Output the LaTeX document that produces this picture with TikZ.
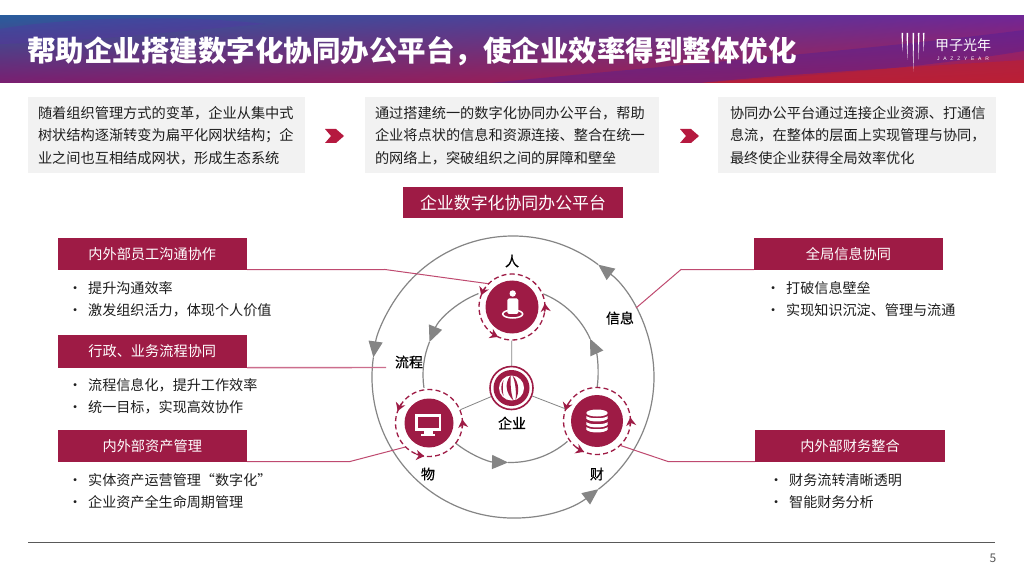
\documentclass[tikz,border=0pt]{standalone}
\usepackage{fontspec}
\usetikzlibrary{arrows.meta,shapes.geometric,shadings}
\setmainfont{Noto Sans CJK SC}
\newfontfamily\logofont[LetterSpace=75]{Liberation Sans}
\newfontfamily\labelfont[FakeBold=0.5]{Noto Sans CJK SC}
\definecolor{crimson}{HTML}{9E1B45}
\definecolor{leaderc}{HTML}{BF4A70}
\definecolor{ringgray}{HTML}{858585}
\definecolor{panelgray}{HTML}{F2F2F2}
\definecolor{chevron}{HTML}{B5193F}
\definecolor{bodytext}{HTML}{1E1E1E}
\definecolor{hul}{HTML}{2A5C9C}
\definecolor{hur}{HTML}{702696}
\definecolor{hll}{HTML}{7A1E70}
\definecolor{hlr}{HTML}{B51E40}
\definecolor{wavep}{HTML}{5A2FA8}
\definecolor{waveb}{HTML}{4A1F9C}
\definecolor{waver}{HTML}{C0202C}
\tikzset{
  panel/.style={fill=panelgray,draw=none,minimum height=76pt,inner ysep=0pt,inner xsep=10pt,align=left,text=bodytext,
     font=\fontsize{14.2}{22.5}\selectfont},
  tagbox/.style={fill=crimson,text=white,draw=none,inner sep=0pt,font=\fontsize{14.2}{16}\selectfont},
  bullettext/.style={anchor=west,inner sep=0pt,text=bodytext,font=\fontsize{14.1}{16}\selectfont},
  ringlabel/.style={inner sep=0pt,text=black,font=\labelfont\fontsize{14}{16}\selectfont},
  ringline/.style={draw=ringgray,line width=1.2pt},
  ringarrow/.style={ringline,-{Triangle[length=16pt,width=14pt,fill=ringgray]}},
  leader/.style={draw=leaderc,line width=1pt},
  spoke/.style={draw=ringgray,line width=.8pt},
  dashring/.style={circle,draw=crimson,line width=1.3pt,dash pattern=on 5pt off 3.2pt,inner sep=0pt},
  disk/.style={circle,fill=crimson,inner sep=0pt},
  swirl/.style={draw=crimson,line width=1.5pt,-{Stealth[length=8pt,width=10pt,inset=2.5pt]}},
  chev/.style={fill=chevron,draw=none}
}
\newcommand{\bulitem}[4]{\node[bullettext] (#1) at (#2,#3) {\makebox[20pt][l]{\hspace{0pt}•}#4};}
\newcommand{\swirls}[5]{%
  \foreach \ang in {#4,#5,-8}{%
    \draw[swirl] (#1,#2) ++(\ang:#3) arc (\ang:\ang+14:#3);}}
\begin{document}
\begin{tikzpicture}[x=1pt,y=1pt]
\useasboundingbox (0,0) rectangle (1024,576);
\fill[white] (0,0) rectangle (1024,576);
% header band
\shade[upper left=hul,upper right=hur,lower left=hll,lower right=hlr]
  (0,493) rectangle (1024,560);
\begin{scope}
  \clip (0,493) rectangle (1024,560);
  \fill[wavep,opacity=.3] (0,547) .. controls (60,558) and (180,562) .. (265,552) .. controls (180,545) and (80,534) .. (0,532) -- cycle;
  \fill[waveb,opacity=.4] (490,493) .. controls (660,510) and (860,525) .. (1024,546) -- (1024,525) .. controls (900,505) and (800,500) .. (700,493) -- cycle;
  \fill[waver,opacity=.6] (700,493) .. controls (800,503) and (930,510) .. (1024,516) -- (1024,493) -- cycle;
\end{scope}
\node[anchor=west,inner sep=0pt,text=white,font=\fontsize{28.5}{30}\selectfont\bfseries] (title) at (27,525) {帮助企业搭建数字化协同办公平台，使企业效率得到整体优化};
% logo
\foreach \lx/\ly in {902.3/524.3,907.3/516,913.3/504.3,918.7/516,923.7/524.3}{
  \fill[white] (\lx-.8,543) -- (\lx+.8,543) -- (\lx,\ly) -- cycle;}
\node[inner sep=0pt,text=white,font=\fontsize{14}{16}\selectfont] (logocn) at (963,530.5) {甲子光年};
\node[inner sep=0pt,text=white,font=\logofont\fontsize{5}{6}\selectfont] (logoen) at (963,517) {JAZZYEAR};
% top panels
\node[panel,minimum width=277pt,text width=257pt] (p1) at (166.5,440.5) {随着组织管理方式的变革，企业从集中式\\树状结构逐渐转变为扁平化网状结构；企\\业之间也互相结成网状，形成生态系统};
\node[panel,minimum width=294pt,text width=274pt] (p2) at (512,440.5) {通过搭建统一的数字化协同办公平台，帮助\\企业将点状的信息和资源连接、整合在统一\\的网络上，突破组织之间的屏障和壁垒};
\node[panel,minimum width=278pt,inner xsep=12pt,text width=254pt] (p3) at (857,440.5) {协同办公平台通过连接企业资源、打通信\\息流，在整体的层面上实现管理与协同，\\最终使企业获得全局效率优化};
\fill[chev] (325,447) -- (336,447) -- (344,440) -- (336,433) -- (325,433) -- (331,440) -- cycle;
\fill[chev] (680,447) -- (691,447) -- (699,440) -- (691,433) -- (680,433) -- (686,440) -- cycle;
\node[tagbox,minimum width=220pt,minimum height=31pt,font=\fontsize{16.9}{18}\selectfont] (platform) at (513,373) {企业数字化协同办公平台};
% left column
\node[tagbox,minimum width=189.5pt,minimum height=32pt] (L1) at (152.25,322) {内外部员工沟通协作};
\node[tagbox,minimum width=189.5pt,minimum height=33pt] (L2) at (152.25,224.5) {行政、业务流程协同};
\node[tagbox,minimum width=189.5pt,minimum height=32pt] (L3) at (152.25,130) {内外部资产管理};
\bulitem{b1}{68}{288}{提升沟通效率}
\bulitem{b2}{68}{266}{激发组织活力，体现个人价值}
\bulitem{b3}{68}{191}{流程信息化，提升工作效率}
\bulitem{b4}{68}{169}{统一目标，实现高效协作}
\bulitem{b5}{68}{96}{实体资产运营管理“数字化”}
\bulitem{b6}{68}{74}{企业资产全生命周期管理}
% right column
\node[tagbox,minimum width=189pt,minimum height=32pt] (R1) at (848.5,322) {全局信息协同};
\node[tagbox,minimum width=190pt,minimum height=32pt] (R2) at (850,130) {内外部财务整合};
\bulitem{b7}{766}{288}{打破信息壁垒}
\bulitem{b8}{766}{266}{实现知识沉淀、管理与流通}
\bulitem{b9}{769}{96}{财务流转清晰透明}
\bulitem{b10}{769}{74}{智能财务分析}
% rings
\coordinate (oc) at (513,199);
\coordinate (ic) at (510.5,201);
\draw[ringarrow] (oc) ++(-52.7:141) arc (-52.7:52.8:141);
\draw[ringarrow] (oc) ++(52.8:141) arc (52.8:172:141);
\draw[ringarrow] (oc) ++(172:141) arc (172:307.3:141);
\draw[ringarrow] (ic) ++(-8:87.5) arc (-8:24.4:87.5);
\draw[ringline] (ic) ++(24.4:87.5) arc (24.4:68:87.5);
\draw[ringarrow] (ic) ++(111.5:87.5) arc (111.5:157.8:87.5);
\draw[ringline] (ic) ++(157.8:87.5) arc (157.8:188.5:87.5);
\draw[ringarrow] (ic) ++(230.8:87.5) arc (230.8:268.4:87.5);
\draw[ringline] (ic) ++(268.4:87.5) arc (268.4:310.6:87.5);
% nodes on the ring
\node[dashring,minimum size=66pt] (renring) at (512,269) {};
\node[dashring,minimum size=67pt] (wuring) at (429,153) {};
\node[dashring,minimum size=67pt] (cairing) at (597,155) {};
\node[disk,minimum size=53pt] (ren) at (512,269) {};
\node[disk,minimum size=49pt] (wu) at (429,153) {};
\node[disk,minimum size=52pt] (cai) at (597,155) {};
\swirls{512}{269}{33}{145}{231}
\swirls{429}{153}{33.5}{145}{248}
\swirls{597}{155}{33.5}{148}{233}
% centre
\node[circle,fill=white,draw=crimson,line width=1.6pt,minimum size=43pt,inner sep=0pt] (qiye) at (511.5,188) {};
\draw[spoke] (renring) -- (qiye);
\draw[spoke] (wuring) -- (qiye);
\draw[spoke] (cairing) -- (qiye);
\fill[crimson] (511.5,188) circle (18);
\begin{scope}[shift={(511.5,188)}]
  \fill[white] (0,0) circle (12.5);
  \fill[crimson] (-1,12.5) .. controls (-7,5) and (-6,-5) .. (2,-12.5) .. controls (-1,-5) and (-1,5) .. (-1,12.5) -- cycle;
  \fill[crimson] (1,12.5) .. controls (8,6) and (8,-5) .. (4,-12) .. controls (5,-5) and (4,6) .. (1,12.5) -- cycle;
  \fill[crimson] (-8,-8) .. controls (-11,-3) and (-11,3) .. (-8,8) .. controls (-9,3) and (-9,-3) .. (-8,-8) -- cycle;
\end{scope}
% person icon
\draw[white,line width=1.5pt] (512.7,262) ellipse (10 and 4);
\fill[white] (512.7,282.5) circle (3.2);
\fill[white,rounded corners=1.5pt] (507.3,262) rectangle (518.3,277.5);
% monitor icon
\fill[white] (415,145.5) rectangle (441,162);
\fill[crimson] (417.5,148.5) rectangle (438.5,159.5);
\fill[white] (424,145.5) rectangle (432.5,142);
\fill[white] (421,142) rectangle (435,140);
% database icon
\fill[white] (597,163) ellipse (10.7 and 3.5);
\foreach \yb in {160,154,149}{
  \fill[white] (586.3,\yb) .. controls (589,\yb-3) and (605,\yb-3) .. (607.7,\yb) -- (607.7,\yb-2.6) .. controls (605,\yb-6.4) and (589,\yb-6.4) .. (586.3,\yb-2.6) -- cycle;}
% labels
\node[ringlabel] (lren) at (512,315) {人};
\node[ringlabel] (lxx) at (620,258) {信息};
\node[ringlabel] (llc) at (409,214) {流程};
\node[ringlabel] (lqy) at (512,153) {企业};
\node[ringlabel] (lwu) at (428,102) {物};
\node[ringlabel] (lcai) at (597,102) {财};
% leaders
\coordinate (e1) at (385,306.5);
\coordinate (e2) at (386,208.5);
\coordinate (e3) at (350,114.5);
\coordinate (e4) at (681,306.5);
\coordinate (e5) at (668,114.5);
\coordinate (e6) at (636,268);
\draw[leader] ([yshift=.5pt]L1.south east) -- (e1) -- (renring.136);
\draw[leader,line width=1.4pt,draw=leaderc!80] ([yshift=.5pt]L2.south east) -- (e2);
\draw[leader] ([yshift=.5pt]L3.south east) -- (e3) -- (wuring.225);
\draw[leader] ([yshift=.5pt]R1.south west) -- (e4) -- (e6);
\draw[leader] ([yshift=.5pt]R2.south west) -- (e5) -- (cairing.-46);
% footer
\coordinate (f1) at (28,34);
\coordinate (f2) at (995,34);
\draw[draw=black!65,line width=1pt] (f1) -- (f2);
\node[inner sep=0pt,text=black!65,font=\fontsize{12}{14}\selectfont] (pageno) at (993,18) {5};
\end{tikzpicture}
\end{document}
